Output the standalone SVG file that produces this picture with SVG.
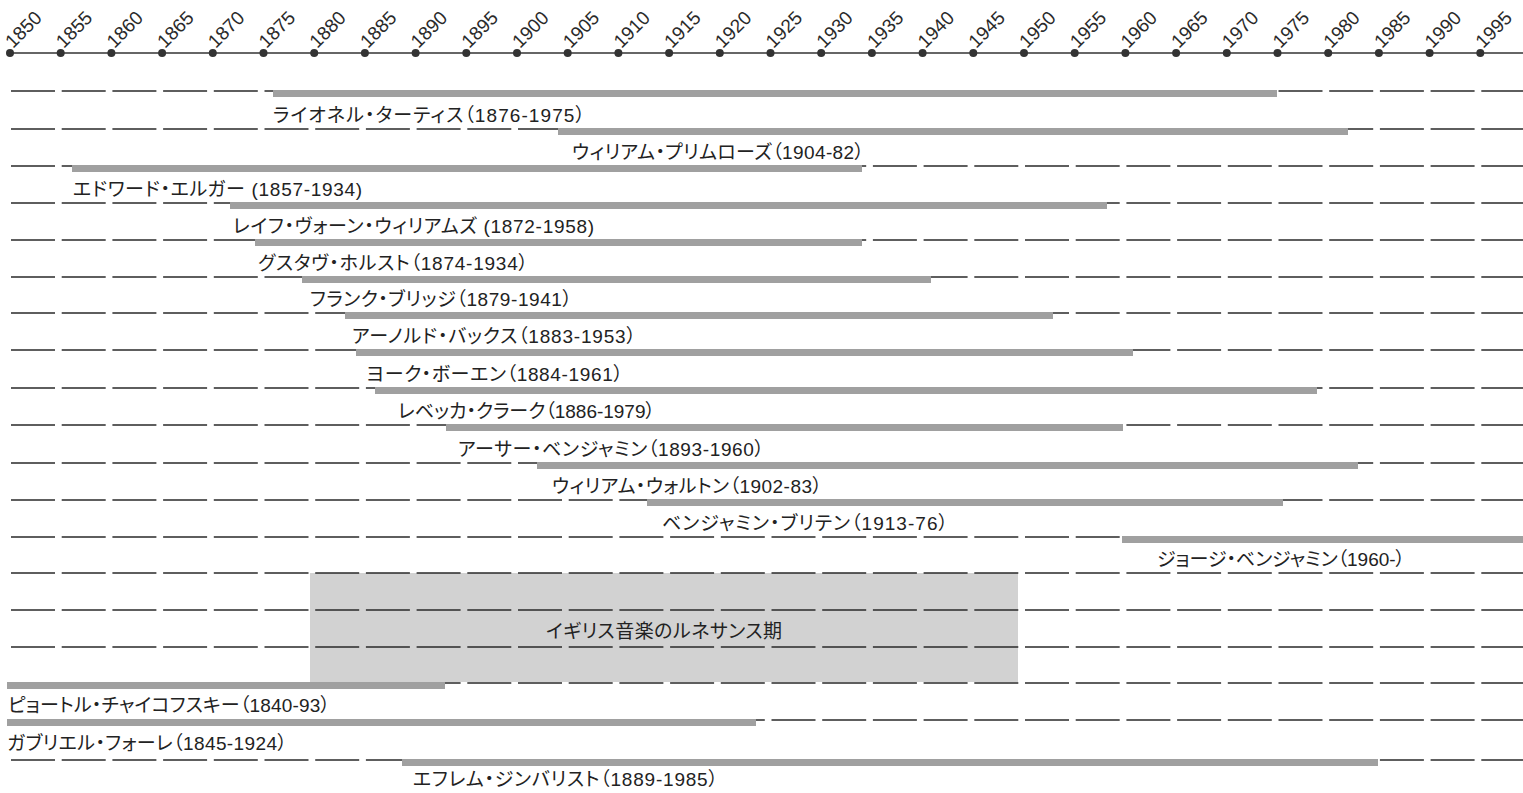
<svg xmlns="http://www.w3.org/2000/svg" width="1523" height="793" viewBox="0 0 1523 793">
<style>
.yr{font-family:"Liberation Sans",Arial,sans-serif;font-size:19px;fill:#2a2a2a}
.lbl{font-family:"Liberation Sans","Noto Sans CJK JP",sans-serif;font-size:19px;fill:#222;font-feature-settings:"palt" 1}
.bar{fill:#a0a0a0}
.dash{stroke:#2a2a2a;stroke-width:1.5;stroke-dasharray:44 6.7;fill:none}
.dot{fill:#333}
</style>
<rect width="1523" height="793" fill="#ffffff"/>
<g id="axis">
<line x1="10" y1="53" x2="1523" y2="53" stroke="#333" stroke-width="1.5"/>
<g id="ticks">
<circle class="dot" cx="10" cy="53" r="4"/><circle class="dot" cx="60.7" cy="53" r="4"/><circle class="dot" cx="111.4" cy="53" r="4"/><circle class="dot" cx="162.1" cy="53" r="4"/><circle class="dot" cx="212.8" cy="53" r="4"/><circle class="dot" cx="263.5" cy="53" r="4"/><circle class="dot" cx="314.2" cy="53" r="4"/><circle class="dot" cx="364.9" cy="53" r="4"/><circle class="dot" cx="415.6" cy="53" r="4"/><circle class="dot" cx="466.3" cy="53" r="4"/><circle class="dot" cx="517" cy="53" r="4"/><circle class="dot" cx="567.7" cy="53" r="4"/><circle class="dot" cx="618.4" cy="53" r="4"/><circle class="dot" cx="669.1" cy="53" r="4"/><circle class="dot" cx="719.8" cy="53" r="4"/><circle class="dot" cx="770.5" cy="53" r="4"/><circle class="dot" cx="821.2" cy="53" r="4"/><circle class="dot" cx="871.9" cy="53" r="4"/><circle class="dot" cx="922.6" cy="53" r="4"/><circle class="dot" cx="973.3" cy="53" r="4"/><circle class="dot" cx="1024" cy="53" r="4"/><circle class="dot" cx="1074.7" cy="53" r="4"/><circle class="dot" cx="1125.4" cy="53" r="4"/><circle class="dot" cx="1176.1" cy="53" r="4"/><circle class="dot" cx="1226.8" cy="53" r="4"/><circle class="dot" cx="1277.5" cy="53" r="4"/><circle class="dot" cx="1328.2" cy="53" r="4"/><circle class="dot" cx="1378.9" cy="53" r="4"/><circle class="dot" cx="1429.6" cy="53" r="4"/><circle class="dot" cx="1480.3" cy="53" r="4"/>
</g>
<g id="years">
<text class="yr" transform="translate(13,49) rotate(-45)">1850</text>
<text class="yr" transform="translate(63.7,49) rotate(-45)">1855</text>
<text class="yr" transform="translate(114.4,49) rotate(-45)">1860</text>
<text class="yr" transform="translate(165.1,49) rotate(-45)">1865</text>
<text class="yr" transform="translate(215.8,49) rotate(-45)">1870</text>
<text class="yr" transform="translate(266.5,49) rotate(-45)">1875</text>
<text class="yr" transform="translate(317.2,49) rotate(-45)">1880</text>
<text class="yr" transform="translate(367.9,49) rotate(-45)">1885</text>
<text class="yr" transform="translate(418.6,49) rotate(-45)">1890</text>
<text class="yr" transform="translate(469.3,49) rotate(-45)">1895</text>
<text class="yr" transform="translate(520,49) rotate(-45)">1900</text>
<text class="yr" transform="translate(570.7,49) rotate(-45)">1905</text>
<text class="yr" transform="translate(621.4,49) rotate(-45)">1910</text>
<text class="yr" transform="translate(672.1,49) rotate(-45)">1915</text>
<text class="yr" transform="translate(722.8,49) rotate(-45)">1920</text>
<text class="yr" transform="translate(773.5,49) rotate(-45)">1925</text>
<text class="yr" transform="translate(824.2,49) rotate(-45)">1930</text>
<text class="yr" transform="translate(874.9,49) rotate(-45)">1935</text>
<text class="yr" transform="translate(925.6,49) rotate(-45)">1940</text>
<text class="yr" transform="translate(976.3,49) rotate(-45)">1945</text>
<text class="yr" transform="translate(1027,49) rotate(-45)">1950</text>
<text class="yr" transform="translate(1077.7,49) rotate(-45)">1955</text>
<text class="yr" transform="translate(1128.4,49) rotate(-45)">1960</text>
<text class="yr" transform="translate(1179.1,49) rotate(-45)">1965</text>
<text class="yr" transform="translate(1229.8,49) rotate(-45)">1970</text>
<text class="yr" transform="translate(1280.5,49) rotate(-45)">1975</text>
<text class="yr" transform="translate(1331.2,49) rotate(-45)">1980</text>
<text class="yr" transform="translate(1381.9,49) rotate(-45)">1985</text>
<text class="yr" transform="translate(1432.6,49) rotate(-45)">1990</text>
<text class="yr" transform="translate(1483.3,49) rotate(-45)">1995</text>
</g>
</g>
<g id="renaissance">
<rect x="310" y="573" width="708" height="109" fill="#d2d2d2"/>
<text class="lbl" x="664" y="638" text-anchor="middle" font-size="20" textLength="236" lengthAdjust="spacing">イギリス音楽のルネサンス期</text>
</g>
<g id="connectors">
<line class="dash" x1="11" y1="91" x2="1523" y2="91"/>
<line class="dash" x1="11" y1="129" x2="1523" y2="129"/>
<line class="dash" x1="11" y1="166" x2="1523" y2="166"/>
<line class="dash" x1="11" y1="203" x2="1523" y2="203"/>
<line class="dash" x1="11" y1="240" x2="1523" y2="240"/>
<line class="dash" x1="11" y1="277" x2="1523" y2="277"/>
<line class="dash" x1="11" y1="313" x2="1523" y2="313"/>
<line class="dash" x1="11" y1="350" x2="1523" y2="350"/>
<line class="dash" x1="11" y1="388" x2="1523" y2="388"/>
<line class="dash" x1="11" y1="425" x2="1523" y2="425"/>
<line class="dash" x1="11" y1="463" x2="1523" y2="463"/>
<line class="dash" x1="11" y1="500" x2="1523" y2="500"/>
<line class="dash" x1="11" y1="537" x2="1523" y2="537"/>
<line class="dash" x1="11" y1="573" x2="1523" y2="573"/>
<line class="dash" x1="11" y1="610" x2="1523" y2="610"/>
<line class="dash" x1="11" y1="647" x2="1523" y2="647"/>
<line class="dash" x1="11" y1="683" x2="1523" y2="683"/>
<line class="dash" x1="11" y1="720" x2="1523" y2="720"/>
<line class="dash" x1="11" y1="760" x2="1523" y2="760"/>
</g>
<g id="tertis"><rect class="bar" x="273" y="90" width="1004" height="7"/><text class="lbl" x="273" y="122" textLength="312" lengthAdjust="spacing">ライオネル・ターティス（1876-1975）</text></g>
<g id="primrose"><rect class="bar" x="558" y="128" width="790" height="7"/><text class="lbl" x="572" y="159" textLength="292" lengthAdjust="spacing">ウィリアム・プリムローズ（1904-82）</text></g>
<g id="elgar"><rect class="bar" x="72" y="165" width="790" height="7"/><text class="lbl" x="73" y="196" textLength="289" lengthAdjust="spacing">エドワード・エルガー (1857-1934)</text></g>
<g id="vaughan-williams"><rect class="bar" x="230" y="202" width="877" height="7"/><text class="lbl" x="233" y="233" textLength="361" lengthAdjust="spacing">レイフ・ヴォーン・ウィリアムズ (1872-1958)</text></g>
<g id="holst"><rect class="bar" x="255" y="239" width="607" height="7"/><text class="lbl" x="258" y="270" textLength="270" lengthAdjust="spacing">グスタヴ・ホルスト（1874-1934）</text></g>
<g id="bridge"><rect class="bar" x="302" y="276" width="629" height="7"/><text class="lbl" x="310" y="306" textLength="262" lengthAdjust="spacing">フランク・ブリッジ（1879-1941）</text></g>
<g id="bax"><rect class="bar" x="345" y="312" width="708" height="7"/><text class="lbl" x="352" y="343" textLength="284" lengthAdjust="spacing">アーノルド・バックス（1883-1953）</text></g>
<g id="bowen"><rect class="bar" x="356" y="349" width="777" height="7"/><text class="lbl" x="366" y="381" textLength="257" lengthAdjust="spacing">ヨーク・ボーエン（1884-1961）</text></g>
<g id="clarke"><rect class="bar" x="375" y="387" width="942" height="7"/><text class="lbl" x="398" y="418" textLength="257" lengthAdjust="spacing">レベッカ・クラーク（1886-1979）</text></g>
<g id="a-benjamin"><rect class="bar" x="446" y="424" width="677" height="7"/><text class="lbl" x="458" y="456" textLength="306" lengthAdjust="spacing">アーサー・ベンジャミン（1893-1960）</text></g>
<g id="walton"><rect class="bar" x="537" y="462" width="821" height="7"/><text class="lbl" x="552" y="493" textLength="270" lengthAdjust="spacing">ウィリアム・ウォルトン（1902-83）</text></g>
<g id="britten"><rect class="bar" x="647" y="499" width="636" height="7"/><text class="lbl" x="662" y="530" textLength="286" lengthAdjust="spacing">ベンジャミン・ブリテン（1913-76）</text></g>
<g id="g-benjamin"><rect class="bar" x="1122" y="536" width="401" height="7"/><text class="lbl" x="1157" y="566" textLength="248" lengthAdjust="spacing">ジョージ・ベンジャミン（1960-）</text></g>
<g id="tchaikovsky"><rect class="bar" x="7" y="682" width="438" height="7"/><text class="lbl" x="8" y="712" textLength="322" lengthAdjust="spacing">ピョートル・チャイコフスキー（1840-93）</text></g>
<g id="faure"><rect class="bar" x="7" y="719" width="749" height="7"/><text class="lbl" x="7" y="750" textLength="280" lengthAdjust="spacing">ガブリエル・フォーレ（1845-1924）</text></g>
<g id="zimbalist"><rect class="bar" x="402" y="759" width="976" height="7"/><text class="lbl" x="413" y="786" textLength="305" lengthAdjust="spacing">エフレム・ジンバリスト（1889-1985）</text></g>
</svg>
